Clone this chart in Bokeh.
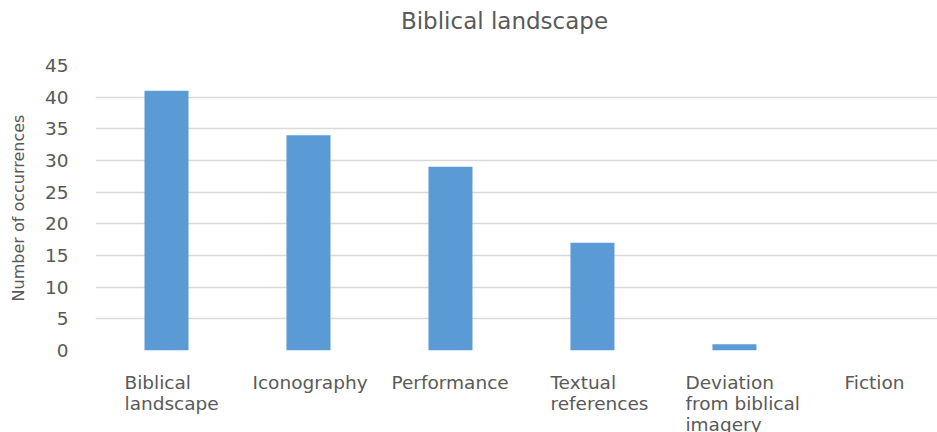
import numpy as np
from bokeh.plotting import figure
from bokeh.models import ColumnDataSource, FixedTicker, Range1d
from bokeh.layouts import column
from bokeh.core.properties import value
from bokeh.embed import file_html
from bokeh.resources import INLINE

title_text = "Biblical landscape"
categories = ["Biblical landscape", "Iconography", "Performance",
              "Textual references", "Deviation from biblical imagery", "Fiction"]
label_lines = ["Biblical\nlandscape", "Iconography", "Performance",
               "Textual\nreferences", "Deviation\nfrom biblical\nimagery", "Fiction"]
occurrences = [41, 34, 29, 17, 1, 0]
y_ticks = [0, 5, 10, 15, 20, 25, 30, 35, 40, 45]

label_x_offsets = [-42, -56, -59, -42, -49, -32]

FONT = "DejaVu Sans"
GRAY = "#595959"
W = 937
LEFT = 95
# the original plot area runs slightly past the right edge of the picture:
# only about 5.93 of the 6 category slots are visible
VISIBLE_SLOTS = 5.93

# slot centre of each category (category i occupies [i, i+1])
xpos = np.arange(len(categories)) + 0.5


def bare(fig):
    fig.axis.visible = False
    fig.grid.visible = False
    fig.outline_line_color = None


# header strip holding the chart title
h = figure(x_range=Range1d(0, 1), y_range=Range1d(0, 1), width=W, height=40,
           output_backend="svg", toolbar_location=None,
           min_border_left=LEFT, min_border_right=0, min_border_top=0,
           min_border_bottom=0)
bare(h)
h.text(x=[0.5], y=[0.5], text=[title_text], x_offset=-12, text_align="center",
       text_baseline="middle", text_font=value(FONT), text_font_size="23px",
       text_color=GRAY)

xr = Range1d(0, VISIBLE_SLOTS)
p = figure(x_range=xr, y_range=(0, 45), width=W, height=324,
           output_backend="svg", toolbar_location=None,
           min_border_left=LEFT, min_border_right=0, min_border_top=25,
           min_border_bottom=14)

src = ColumnDataSource(dict(x=xpos, cat=categories, val=occurrences))
p.vbar(x="x", top="val", width=0.31, source=src, fill_color="#5b9bd5",
       line_color=None)

p.xaxis.visible = False

p.yaxis.ticker = FixedTicker(ticks=y_ticks)
p.yaxis.axis_line_color = None
p.yaxis.major_tick_line_color = None
p.yaxis.minor_tick_line_color = None
p.yaxis.major_label_text_font = FONT
p.yaxis.major_label_text_font_size = "18.5px"
p.yaxis.major_label_text_color = GRAY
p.yaxis.major_label_standoff = 21
p.yaxis.axis_label = "Number of occurrences"
p.yaxis.axis_label_text_font = FONT
p.yaxis.axis_label_text_font_size = "16px"
p.yaxis.axis_label_text_font_style = "normal"
p.yaxis.axis_label_text_color = GRAY
p.yaxis.axis_label_standoff = 14

p.xgrid.grid_line_color = None
p.ygrid.grid_line_color = "#d9d9d9"
p.ygrid.grid_line_width = 1.5
p.outline_line_color = None

# category label strip sharing the x range
s = figure(x_range=xr, y_range=Range1d(0, 1), width=W, height=68,
           output_backend="svg", toolbar_location=None,
           min_border_left=LEFT, min_border_right=0, min_border_top=0,
           min_border_bottom=0)
bare(s)

lsrc = ColumnDataSource(dict(x=xpos, txt=label_lines,
                             y=[1] * len(categories), xoff=label_x_offsets))
s.text(x="x", y="y", text="txt", x_offset="xoff", y_offset=7, source=lsrc,
       text_align="left", text_baseline="top", text_font=value(FONT),
       text_font_size="18.5px", text_color=GRAY, text_line_height=1.0)

layout = column(h, p, s, spacing=0)
open("out.html", "w").write(file_html(layout, INLINE))
